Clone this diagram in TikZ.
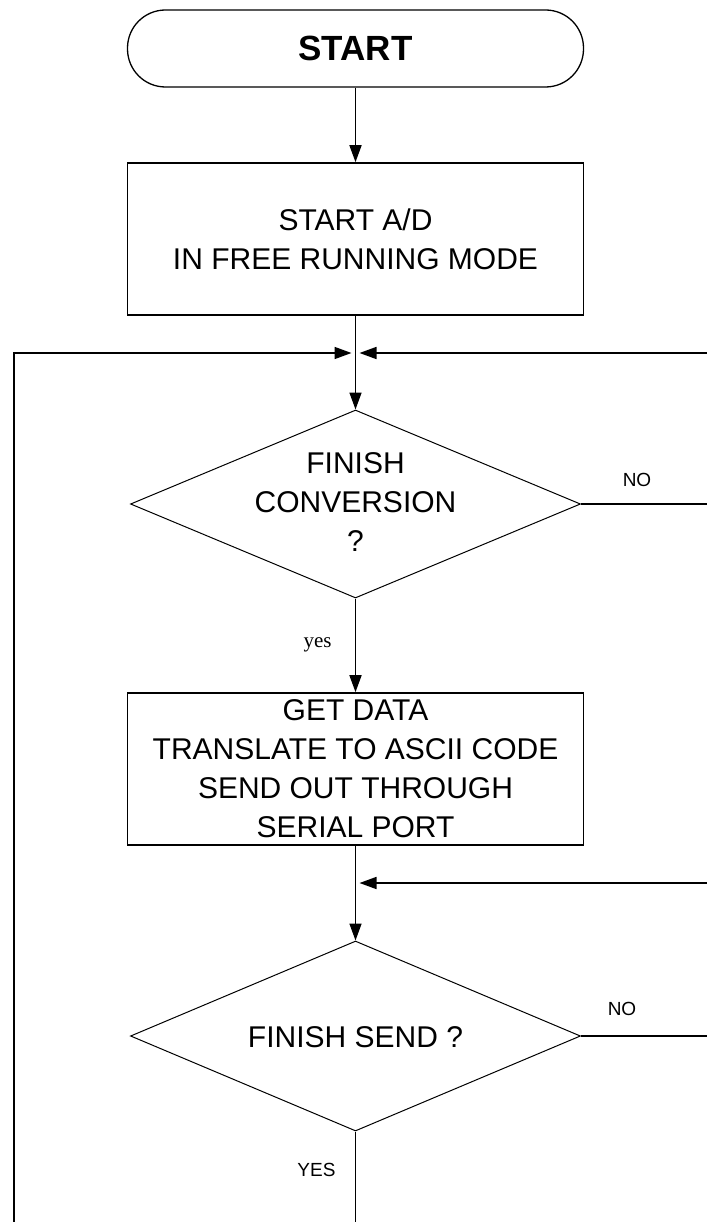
\documentclass[tikz,border=0pt]{standalone}
\usepackage{fontspec}
\setmainfont{Liberation Sans}
\newfontfamily\myserif{Liberation Serif}
\usetikzlibrary{shapes.geometric,arrows.meta}
\begin{document}
\begin{tikzpicture}[x=1pt,y=-1pt,
  line/.style={line width=1.6pt},
  arr/.style={line width=1.6pt,-{Triangle[length=17pt,width=12pt]}},
  terminal/.style={draw,line width=1.3pt,rounded corners=38pt,minimum width=456pt,minimum height=77pt,inner sep=0pt,font=\fontsize{35}{35}\selectfont\bfseries},
  procbox/.style={draw,line width=1.6pt,minimum width=456pt,minimum height=152pt,inner sep=0pt,align=center,font=\fontsize{30}{39}\selectfont},
  decision/.style={draw,diamond,line width=1pt,inner sep=0pt,minimum width=450pt},
  dtext/.style={align=center,inner sep=0pt,font=\fontsize{30}{39}\selectfont},
  lbl/.style={inner sep=0pt,font=\fontsize{19}{19}\selectfont}
]
\useasboundingbox (0,0) rectangle (706,1222);

\node[terminal] (start) at (355.5,48.5) {START};
\node[procbox] (box1) at (355.5,239) {START A/D\\IN FREE RUNNING MODE};
\node[decision,minimum height=188pt] (d1) at (355.5,504) {};
\node[dtext] (d1t) at (355.5,502) {FINISH\\CONVERSION\\?};
\node[procbox] (box2) at (355.5,769) {GET DATA\\TRANSLATE TO ASCII CODE\\SEND OUT THROUGH\\SERIAL PORT};
\node[decision,minimum height=190pt] (d2) at (355.5,1036) {};
\node[dtext] (d2t) at (355.5,1037) {FINISH SEND ?};

\coordinate (j1) at (355.5,353);
\coordinate (j2) at (355.5,883);
\coordinate (l1) at (14,353);
\coordinate (lb) at (14,1224);
\coordinate (r1) at (707,353);
\coordinate (r2) at (707,504);
\coordinate (r3) at (707,883);
\coordinate (r4) at (707,1036);
\coordinate (bot) at (355.5,1224);

\draw[arr] (start) -- (box1);
\draw[line] (box1.south) -- (j1);
\draw[arr] (j1) -- (d1.north);
\draw[arr,shorten >=4pt] (lb) -- (l1) -- (j1);
\draw[arr,shorten >=4pt] (r1) -- (j1);
\draw[line] (d1.east) -- (r2);
\draw[arr] (d1.south) -- (box2.north);
\draw[line] (box2.south) -- (j2);
\draw[arr] (j2) -- (d2.north);
\draw[arr,shorten >=4pt] (r3) -- (j2);
\draw[line] (d2.east) -- (r4);
\draw[line] (d2.south) -- (bot);

\node[lbl] (no1) at (637,480) {NO};
\node[lbl] (no2) at (622,1009) {NO};
\node[lbl] (yes2) at (316.5,1170) {YES};
\node[inner sep=0pt,anchor=base,font=\myserif\fontsize{21}{21}\selectfont] (yes1) at (317.5,647) {yes};
\end{tikzpicture}
\end{document}
